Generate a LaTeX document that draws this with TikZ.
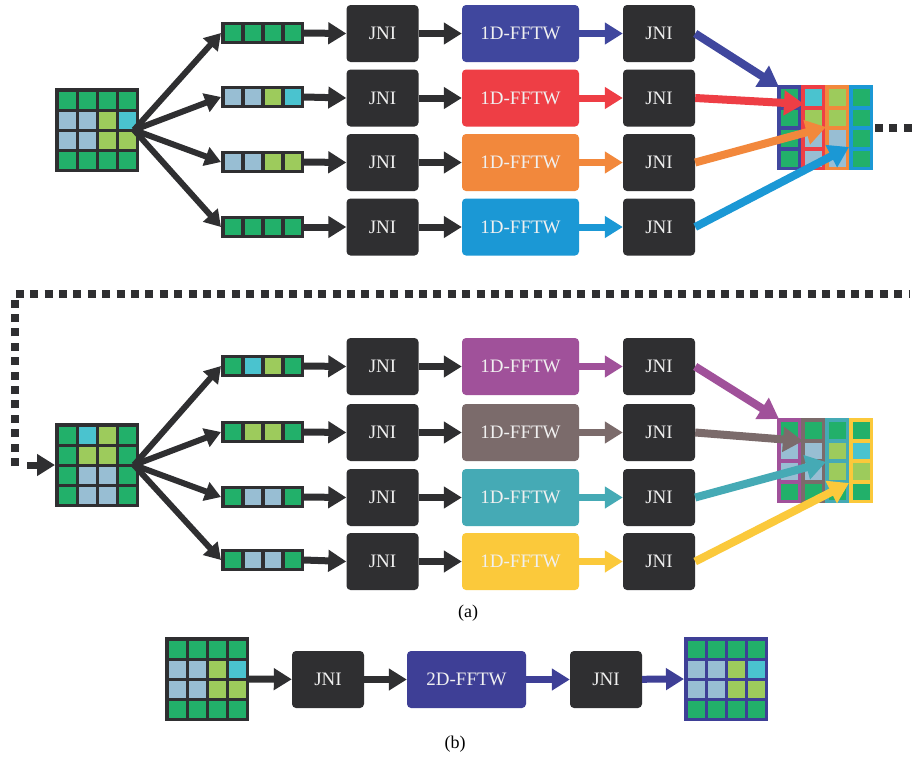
\documentclass[tikz,border=0pt]{standalone}
\usepackage{fontspec}
\setmainfont{Liberation Serif}
\usetikzlibrary{arrows.meta}
\definecolor{dk}{HTML}{2F2F31}
\definecolor{cG}{HTML}{22B06A}
\definecolor{cB}{HTML}{98BED3}
\definecolor{cL}{HTML}{9DCB5C}
\definecolor{cC}{HTML}{4AC3CF}
\definecolor{fA}{HTML}{40479E}
\definecolor{fB}{HTML}{EE3E45}
\definecolor{fC}{HTML}{F2883C}
\definecolor{fD}{HTML}{1B98D5}
\definecolor{fE}{HTML}{A0519A}
\definecolor{fF}{HTML}{7B6B6B}
\definecolor{fG}{HTML}{45AAB5}
\definecolor{fH}{HTML}{FBC93B}
\definecolor{fI}{HTML}{3E3F96}
\definecolor{tx}{HTML}{F0F0F0}

\newcommand{\gridmat}[5]{%
  \node[inner sep=0, outer sep=0, minimum width=84, minimum height=84, anchor=north west, fill=#4] (#1) at (#2,#3) {};
  \foreach \c [count=\i from 0] in {#5}{%
    \pgfmathtruncatemacro\rr{\i/4}%
    \pgfmathtruncatemacro\kk{mod(\i,4)}%
    \fill[\c] ({#2+3.5+\kk*20},{#3+3.5+\rr*20}) rectangle ++(17,17);
  }%
}
\newcommand{\vecrow}[4]{%
  \node[inner sep=0, outer sep=0, minimum width=83, minimum height=22, anchor=west, fill=dk] (#1) at (#2,#3) {};
  \foreach \c [count=\i from 0] in {#4}{%
    \fill[\c] ({#2+3.5+\i*20},{#3-8}) rectangle ++(16,16);
  }%
}
\newcommand{\colmat}[4]{%
  \node[inner sep=0, outer sep=0, minimum width=96, minimum height=85, anchor=north west] (#1) at (#2,#3) {};
  \foreach \fc/\ca/\cb/\cc/\cd [count=\k from 0] in {#4}{%
    \fill[\fc] ({#2+\k*24},#3) rectangle ++(24,85);
    \fill[\ca] ({#2+\k*24+3.5},{#3+4}) rectangle ++(17,16.5);
    \fill[\cb] ({#2+\k*24+3.5},{#3+24.5}) rectangle ++(17,16.5);
    \fill[\cc] ({#2+\k*24+3.5},{#3+45}) rectangle ++(17,16.5);
    \fill[\cd] ({#2+\k*24+3.5},{#3+65.5}) rectangle ++(17,16.5);
  }%
}

\tikzset{
  darr/.style={draw=dk, line width=7pt, -{Triangle[length=18pt,width=21pt]}},
  carr/.style={draw=#1, line width=7pt, -{Triangle[length=18pt,width=21pt]}},
  oarr/.style={draw=#1, line width=8pt, -{Triangle[length=20pt,width=24pt]}},
  farr/.style={draw=dk, line width=6pt, -{Triangle[length=16pt,width=19pt]}},
  jni/.style={fill=dk, rounded corners=4pt, minimum width=72, minimum height=57, text=tx, font=\fontsize{19}{21}\selectfont, inner sep=0},
  fft/.style={jni, fill=#1, minimum width=117},
  dots/.style={draw=dk, line width=8pt, dash pattern=on 8pt off 6.4pt},
  lab/.style={font=\fontsize{18}{20}\selectfont, text=black, inner sep=0},
}

\begin{document}
\begin{tikzpicture}[x=1pt,y=-1pt]
\fill[white] (0,0) rectangle (913,761);
\useasboundingbox (0,0) rectangle (913,761);

% ---------- top part ----------
\gridmat{inA}{55}{88}{dk}{cG,cG,cG,cG,cB,cB,cL,cC,cB,cB,cL,cL,cG,cG,cG,cG}
\vecrow{va1}{221}{33}{cG,cG,cG,cG}
\vecrow{va2}{221}{97}{cB,cB,cL,cC}
\vecrow{va3}{221}{162}{cB,cB,cL,cL}
\vecrow{va4}{221}{227}{cG,cG,cG,cG}
\colmat{outA}{777}{85}{fA/cG/cG/cG/cG, fB/cC/cL/cB/cB, fC/cL/cL/cB/cB, fD/cG/cG/cG/cG}
\coordinate (ta1) at (779,87);
\coordinate (ta2) at (804,104);
\coordinate (ta3) at (826,127);
\coordinate (ta4) at (849,147);

\foreach \n/\y/\fc in {1/33.5/fA, 2/98/fB, 3/162.5/fC, 4/227/fD}{
  \node[jni] (ja\n) at (382.5,\y) {JNI};
  \node[fft=\fc] (fa\n) at (520.5,\y) {1D-FFTW};
  \node[jni] (ka\n) at (659,\y) {JNI};
  \draw[darr] (va\n.east) -- (ja\n.west);
  \draw[darr] (ja\n) -- (fa\n);
  \draw[carr=\fc] (fa\n) -- (ka\n);
  \draw[oarr=\fc] (ka\n.east) -- (ta\n);
  \draw[farr] ([xshift=-5pt]inA.east) -- (va\n.west);
}

% dotted link
\coordinate (dA) at (913,127.5);
\draw[dots] ([xshift=2pt]outA.east) -- (dA);
\coordinate (dB) at (15,466);
\coordinate (dC) at (15,294);
\coordinate (dD) at (910,294);
\draw[dots] (dB) -- (dC) -- (dD);
\coordinate (dE) at (27,465);

% ---------- bottom part ----------
\gridmat{inB}{55}{423}{dk}{cG,cC,cL,cG,cG,cL,cL,cG,cG,cB,cB,cG,cG,cB,cB,cG}
\draw[darr] (dE) -- (inB.west);
\vecrow{vb1}{221}{366}{cG,cC,cL,cG}
\vecrow{vb2}{221}{432}{cG,cL,cL,cG}
\vecrow{vb3}{221}{497}{cG,cB,cB,cG}
\vecrow{vb4}{221}{560}{cG,cB,cB,cG}
\colmat{outB}{777}{418}{fE/cG/cB/cB/cG, fF/cG/cB/cB/cG, fG/cG/cL/cL/cG, fH/cG/cC/cL/cG}
\coordinate (tb1) at (779,419);
\coordinate (tb2) at (803,441);
\coordinate (tb3) at (826,462);
\coordinate (tb4) at (849,483);

\foreach \n/\y/\fc in {1/366.5/fE, 2/432.5/fF, 3/497.5/fG, 4/561.5/fH}{
  \node[jni] (jb\n) at (382.5,\y) {JNI};
  \node[fft=\fc] (fb\n) at (520.5,\y) {1D-FFTW};
  \node[jni] (kb\n) at (659,\y) {JNI};
  \draw[darr] (vb\n.east) -- (jb\n.west);
  \draw[darr] (jb\n) -- (fb\n);
  \draw[carr=\fc] (fb\n) -- (kb\n);
  \draw[oarr=\fc] (kb\n.east) -- (tb\n);
  \draw[farr] ([xshift=-5pt]inB.east) -- (vb\n.west);
}

\node[lab] (la) at (468,613) {(a)};

% ---------- part (b) ----------
\gridmat{inC}{165}{637}{dk}{cG,cG,cG,cG,cB,cB,cL,cC,cB,cB,cL,cL,cG,cG,cG,cG}
\gridmat{outC}{684}{637}{fI}{cG,cG,cG,cG,cB,cB,cL,cC,cB,cB,cL,cL,cG,cG,cG,cG}
\node[jni] (jc) at (328,679.5) {JNI};
\node[fft=fI, minimum width=119] (fc) at (466.5,679.5) {2D-FFTW};
\node[jni] (kc) at (606,679.5) {JNI};
\draw[darr] (inC.east) -- (jc);
\draw[darr] (jc) -- (fc);
\draw[carr=fI] (fc) -- (kc);
\draw[carr=fI] (kc) -- (outC.west);

\node[lab] (lb) at (455,744) {(b)};
\end{tikzpicture}
\end{document}
